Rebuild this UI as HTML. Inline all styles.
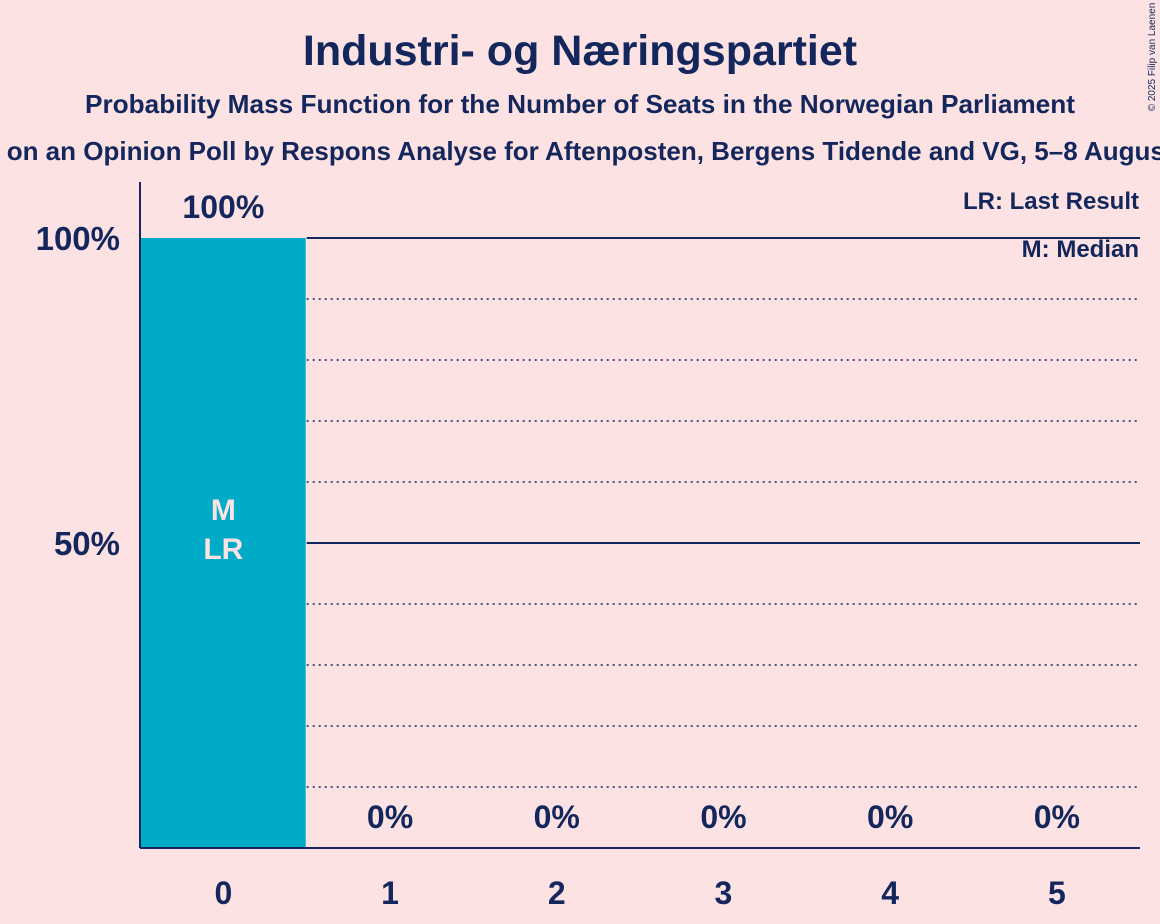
<!DOCTYPE html>
<html><head><meta charset="utf-8"><style>
body{margin:0;background:#fde2e4;font-family:"Liberation Sans",sans-serif;}
svg{display:block}
</style></head><body>
<svg width="1160" height="924" xmlns="http://www.w3.org/2000/svg">
<rect width="1160" height="924" fill="#fde2e4"/>
<text x="580" y="65" text-anchor="middle" font-size="43" font-weight="bold" fill="#13275c">Industri- og Næringspartiet</text>
<text x="580" y="113" text-anchor="middle" font-size="26" font-weight="bold" fill="#13275c" textLength="990" lengthAdjust="spacingAndGlyphs">Probability Mass Function for the Number of Seats in the Norwegian Parliament</text>
<text x="580" y="160" text-anchor="middle" font-size="26" font-weight="bold" fill="#13275c">Based on an Opinion Poll by Respons Analyse for Aftenposten, Bergens Tidende and VG, 5–8 August 2025</text>
<text x="1155" y="57" font-size="10" fill="#13275c" transform="rotate(-90 1155 57)" text-anchor="middle">© 2025 Filip van Laenen</text>
<g id="plot"></g>
<text x="1139" y="209" text-anchor="end" font-size="24" font-weight="bold" fill="#13275c">LR: Last Result</text>
<text x="1139" y="257" text-anchor="end" font-size="24" font-weight="bold" fill="#13275c">M: Median</text>
</svg>
<script>
const categories=[0,1,2,3,4,5];
const probabilities=[100,0,0,0,0,0];
const valueLabels=["100%","0%","0%","0%","0%","0%"];
const yTicks=[50,100];
const yTickLabels=["50%","100%"];
const median=0, lastResult=0;
const NS="http://www.w3.org/2000/svg";
const g=document.getElementById('plot');
const X0=140,X1=1140,Y0=848,Ytop=238,step=166.7;
const y=v=>Y0-(v/100)*(Y0-Ytop);
const xc=i=>X0+step*(i+0.5);
function mk(t,a){const e=document.createElementNS(NS,t);for(const k in a)e.setAttribute(k,a[k]);g.appendChild(e);return e;}
const barEnd=X0+step;
for(let v=10;v<100;v+=10){if(v%50===0)continue;
 const l=mk('line',{x1:barEnd,x2:X1,y1:y(v),y2:y(v),stroke:'#13275c','stroke-width':1.5,'stroke-dasharray':'2,4'});
 
 }
yTicks.forEach((v,i)=>{
 const l=mk('line',{x1:barEnd,x2:X1,y1:y(v),y2:y(v),stroke:'#13275c','stroke-width':2});
 
 
 const t=mk('text',{x:120,y:y(v)+12,'text-anchor':'end','font-size':33,'font-weight':'bold',fill:'#13275c'});
 t.textContent=yTickLabels[i];
 
 
});
categories.forEach((c,i)=>{
 const x=X0+step*i;
 if(probabilities[i]>0){
  const r=mk('rect',{x:x,y:y(probabilities[i]),width:step-1,height:Y0-y(probabilities[i]),fill:'#00abc8'});
  
  
 }
 const vy=probabilities[i]>10?y(probabilities[i])-20:Y0-20;
 const t=mk('text',{x:xc(i),y:vy,'text-anchor':'middle','font-size':32,'font-weight':'bold',fill:'#13275c'});
 t.textContent=valueLabels[i];
 
 
 const xl=mk('text',{x:xc(i),y:904,'text-anchor':'middle','font-size':32,'font-weight':'bold',fill:'#13275c'});
 xl.textContent=c;
 
 
});
const mi=categories.indexOf(median);
const m=mk('text',{x:xc(mi),y:y(50)-23,'text-anchor':'middle','font-size':30,'font-weight':'bold',fill:'#fde2e4'});
m.textContent='M';


const li=categories.indexOf(lastResult);
const lr=mk('text',{x:xc(li),y:y(50)+16,'text-anchor':'middle','font-size':30,'font-weight':'bold',fill:'#fde2e4'});
lr.textContent='LR';


const ya=mk('line',{x1:X0,x2:X0,y1:182,y2:Y0,stroke:'#13275c','stroke-width':2});


const xa=mk('line',{x1:X0,x2:X1,y1:Y0,y2:Y0,stroke:'#13275c','stroke-width':2});


</script>
</body></html>
